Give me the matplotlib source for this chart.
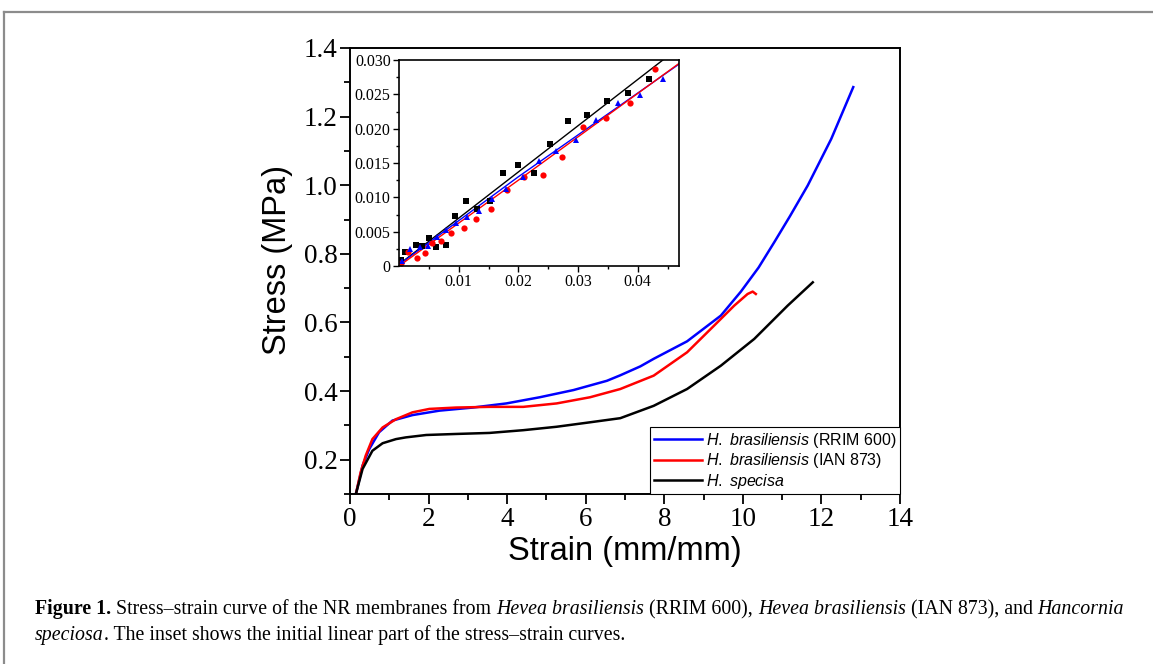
import numpy as np
import matplotlib.pyplot as plt
from matplotlib.lines import Line2D
from matplotlib.ticker import MultipleLocator, FixedLocator

plt.rcParams['font.family'] = 'Liberation Sans'
plt.rcParams['mathtext.fontset'] = 'custom'
plt.rcParams['mathtext.rm'] = 'Liberation Sans'
plt.rcParams['mathtext.it'] = 'Liberation Sans:italic'

# main stress-strain curves
rrim_strain = [0.15, 0.32, 0.49, 0.74, 1.08, 1.59, 2.28, 3.13, 3.98, 4.83, 5.69, 6.54,
               6.88, 7.39, 7.73, 8.58, 9.44, 9.95, 10.4, 10.8, 11.2, 11.65, 12.25, 12.81]
rrim_stress = [0.10, 0.183, 0.231, 0.280, 0.314, 0.330, 0.343, 0.352, 0.364, 0.382, 0.403, 0.430,
               0.446, 0.472, 0.494, 0.545, 0.620, 0.690, 0.760, 0.834, 0.910, 0.999, 1.135, 1.286]

ian_strain = [0.15, 0.27, 0.40, 0.57, 0.83, 1.17, 1.59, 2.02, 2.70, 3.55, 4.41, 5.26, 6.11,
              6.88, 7.73, 8.58, 9.27, 9.78, 10.12, 10.25, 10.33]
ian_stress = [0.10, 0.163, 0.212, 0.260, 0.294, 0.318, 0.338, 0.348, 0.352, 0.354, 0.354, 0.364, 0.382,
              0.406, 0.445, 0.513, 0.591, 0.649, 0.683, 0.690, 0.683]

hs_strain = [0.15, 0.32, 0.57, 0.83, 1.17, 1.42, 1.94, 2.70, 3.55, 4.41, 5.26, 6.11, 6.88,
             7.73, 8.58, 9.44, 10.29, 11.14, 11.78]
hs_stress = [0.10, 0.173, 0.226, 0.248, 0.260, 0.265, 0.272, 0.275, 0.278, 0.286, 0.296, 0.309, 0.321,
             0.357, 0.406, 0.474, 0.552, 0.649, 0.717]

# inset: initial linear part
hs_pts_x = [0.00028, 0.00106, 0.00279, 0.0039, 0.00502, 0.00625, 0.00786, 0.00931, 0.01115, 0.01311,
            0.01523, 0.01746, 0.01991, 0.02264, 0.02532, 0.02833, 0.03151, 0.03486, 0.03832, 0.04194]
hs_pts_y = [0.00087, 0.00204, 0.00311, 0.00296, 0.00408, 0.00272, 0.00301, 0.00728, 0.00942, 0.00825,
            0.00942, 0.01359, 0.01476, 0.01359, 0.01782, 0.02107, 0.02199, 0.02408, 0.02519, 0.02728]

ian_pts_x = [0.00028, 0.0015, 0.00301, 0.00429, 0.00558, 0.00708, 0.00876, 0.01082, 0.01294,
             0.01545, 0.01807, 0.02091, 0.02404, 0.02733, 0.03084, 0.03469, 0.03871, 0.04289]
ian_pts_y = [0.00039, 0.00204, 0.00121, 0.00194, 0.0034, 0.00359, 0.00476, 0.00549, 0.00684,
             0.0083, 0.01107, 0.01301, 0.0132, 0.01592, 0.0202, 0.0215, 0.02369, 0.02864]

rrim_pts_x = [0.0005, 0.0019, 0.00346, 0.00485, 0.00636, 0.00781, 0.00948, 0.01132, 0.01339, 0.01562,
              0.01796, 0.02069, 0.02342, 0.02638, 0.02973, 0.03302, 0.03664, 0.04043, 0.04423]
rrim_pts_y = [0.00078, 0.00243, 0.00282, 0.00296, 0.00417, 0.00524, 0.00621, 0.00718, 0.00806, 0.00981,
              0.01126, 0.01291, 0.01534, 0.0168, 0.01835, 0.02126, 0.02369, 0.02485, 0.02723]

hs_fit_x = [0.0001, 0.02, 0.0442]
hs_fit_y = [0.0003, 0.0137, 0.0300]
rrim_fit_x = [0.0, 0.02, 0.0469]
rrim_fit_y = [0.0002, 0.0130, 0.0294]
ian_fit_x = [0.0, 0.02, 0.0469]
ian_fit_y = [0.0, 0.0125, 0.0295]

labels = [r'$\it{H.}$ $\it{brasiliensis}$ (RRIM 600)',
          r'$\it{H.}$ $\it{brasiliensis}$ (IAN 873)',
          r'$\it{H.}$ $\it{specisa}$']

W, H = 1153, 664
fig = plt.figure(figsize=(W / 100, H / 100), dpi=100)

# grey page frame
fig.add_artist(Line2D([4 / W, 1], [1 - 12 / H, 1 - 12 / H], color='#8c8c8c', lw=1.6))
fig.add_artist(Line2D([4 / W, 4 / W], [0, 1 - 12 / H], color='#8c8c8c', lw=1.6))

ax = fig.add_axes([350 / W, 1 - 494 / H, 550 / W, 446 / H])
l1, = ax.plot(rrim_strain, rrim_stress, color='#0000ff', lw=1.8)
l2, = ax.plot(ian_strain, ian_stress, color='#ff0000', lw=1.8)
l3, = ax.plot(hs_strain, hs_stress, color='black', lw=1.8)
ax.set_xlim(0, 14)
ax.set_ylim(0.1, 1.4)
ax.xaxis.set_major_locator(MultipleLocator(2))
ax.xaxis.set_minor_locator(MultipleLocator(1))
ax.yaxis.set_major_locator(MultipleLocator(0.2))
ax.yaxis.set_minor_locator(MultipleLocator(0.1))
ax.yaxis.set_major_formatter(plt.FormatStrFormatter('%.1f'))
ax.tick_params(which='both', direction='out', top=False, right=False, width=1.3)
ax.tick_params(which='major', length=7, labelsize=19.5, pad=2)
ax.tick_params(which='minor', length=4)
for lab in ax.get_xticklabels() + ax.get_yticklabels():
    lab.set_family('Liberation Serif')
for s in ax.spines.values():
    s.set_linewidth(1.4)
ax.set_xlabel('Strain (mm/mm)', fontsize=23.5, labelpad=3)
ax.set_ylabel('Stress (MPa)', fontsize=23.5)
ax.yaxis.set_label_coords(-0.103, 0.525)

leg = ax.legend([l1, l2, l3], labels, loc='lower right', borderaxespad=0, fancybox=False,
                edgecolor='black', framealpha=1, fontsize=11.5, handlelength=3.0,
                handletextpad=0.3, labelspacing=0.1, borderpad=0.2)
leg.get_frame().set_linewidth(0.8)

# inset
axi = fig.add_axes([399 / W, 1 - 266 / H, 280 / W, 206 / H])
axi.plot(hs_fit_x, hs_fit_y, color='black', lw=1)
axi.plot(rrim_fit_x, rrim_fit_y, color='#0000ff', lw=1)
axi.plot(ian_fit_x, ian_fit_y, color='#ff0000', lw=1)
axi.plot(hs_pts_x, hs_pts_y, 's', color='black', ms=4.5, mew=0)
axi.plot(ian_pts_x, ian_pts_y, 'o', color='#ff0000', ms=4.5, mew=0)
axi.plot(rrim_pts_x, rrim_pts_y, '^', color='#0000ff', ms=5, mew=0)
axi.set_xlim(0, 0.0469)
axi.set_ylim(0, 0.030)
axi.xaxis.set_major_locator(FixedLocator([0.01, 0.02, 0.03, 0.04]))
axi.xaxis.set_minor_locator(FixedLocator([0.005, 0.015, 0.025, 0.035, 0.045]))
axi.set_xticklabels(['0.01', '0.02', '0.03', '0.04'])
yt = [0, 0.005, 0.010, 0.015, 0.020, 0.025, 0.030]
axi.yaxis.set_major_locator(FixedLocator(yt))
axi.yaxis.set_minor_locator(FixedLocator([0.0025, 0.0075, 0.0125, 0.0175, 0.0225, 0.0275]))
axi.set_yticklabels(['0'] + ['%.3f' % v for v in yt[1:]])
axi.tick_params(which='both', direction='out', width=1)
axi.tick_params(which='major', length=4, labelsize=11.5, pad=2)
axi.tick_params(which='minor', length=2.5)
for lab in axi.get_xticklabels() + axi.get_yticklabels():
    lab.set_family('Liberation Serif')
for s in axi.spines.values():
    s.set_linewidth(1.2)

# caption, written piece by piece so bold / italic can mix on one line
rend = fig.canvas.get_renderer()
cap_size = 14.3


def text_width(s, **kw):
    t = fig.text(0, 0, s, fontsize=cap_size, family='Liberation Serif', **kw)
    w = t.get_window_extent(rend).width
    t.remove()
    return w


space_w = text_width('a a') - text_width('aa')


def caption_line(x_px, y_px, parts):
    x = x_px
    for s, style, weight in parts:
        lead = len(s) - len(s.lstrip(' '))
        trail = len(s) - len(s.rstrip(' '))
        x += lead * space_w
        core = s.strip(' ')
        t = fig.text(x / W, 1 - y_px / H, core, fontsize=cap_size, family='Liberation Serif',
                     style=style, weight=weight, va='baseline')
        x += t.get_window_extent(rend).width + trail * space_w


caption_line(35, 614, [('Figure 1.', 'normal', 'bold'),
                       (' Stress\u2013strain curve of the NR membranes from ', 'normal', 'normal'),
                       ('Hevea brasiliensis', 'italic', 'normal'),
                       (' (RRIM 600), ', 'normal', 'normal'),
                       ('Hevea brasiliensis', 'italic', 'normal'),
                       (' (IAN 873), and ', 'normal', 'normal'),
                       ('Hancornia', 'italic', 'normal')])
caption_line(35, 640, [('speciosa', 'italic', 'normal'),
                       ('. The inset shows the initial linear part of the stress\u2013strain curves.',
                        'normal', 'normal')])

fig.savefig('out.png', dpi=100)
